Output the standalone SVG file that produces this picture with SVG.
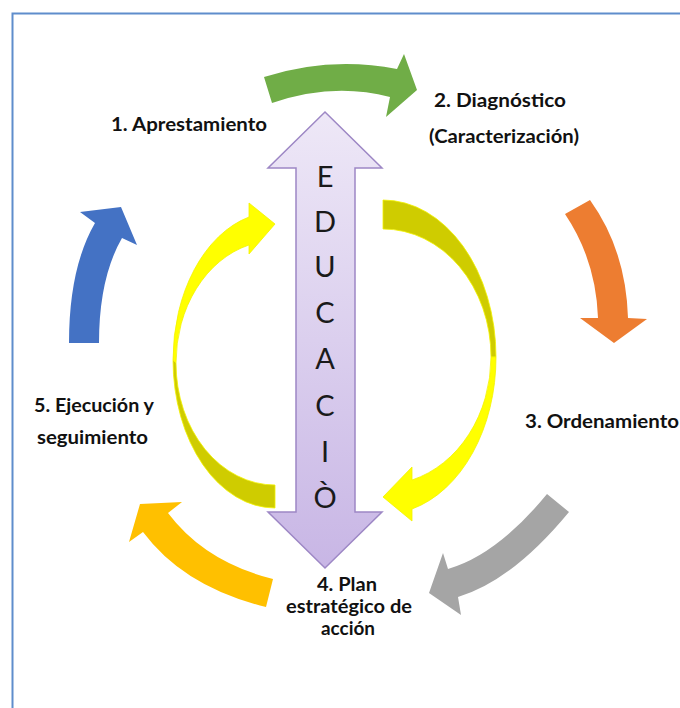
<svg xmlns="http://www.w3.org/2000/svg" width="680" height="708" viewBox="0 0 680 708">
  <defs>
    <linearGradient id="lav" x1="0" y1="0" x2="0" y2="1">
      <stop offset="0" stop-color="#EEE8F7"/>
      <stop offset="1" stop-color="#C8B6E5"/>
    </linearGradient>
  </defs>
  <style>
    .lbl { font-family: Lato, "Liberation Sans", Arial, sans-serif; font-weight: bold; font-size: 18px; fill: #111; }
    .big { font-family: Lato, "Liberation Sans", Arial, sans-serif; font-size: 29px; fill: #1a1a1a; text-anchor: middle; }
    .yel { fill: #FFFF00; stroke: #F2F200; stroke-width: 0.8; }
    .olv { fill: #CFCC00; stroke: #F2F200; stroke-width: 0.8; }
  </style>
  <rect x="12.5" y="13.5" width="720" height="720" fill="#ffffff" stroke="#5F8DCC" stroke-width="2"/>

  <g id="connectors">
    <path id="arrow-1-2" d="M264,77 Q330,56 397,69 L404,54 L417,90 L386,117 L390,97 Q333,82 272,103 Z" fill="#70AD47"/>
    <path id="arrow-2-3" d="M565,214 Q596,260 598,318 L580,318 L614,343 L647,319 L628,318 Q626,250 590,200 Z" fill="#ED7D31"/>
    <path id="arrow-3-4" d="M547,494 Q497,555 448,569 L443,553 L429,593 L461,615 L458,597 Q512,581 569,512 Z" fill="#A5A5A5"/>
    <path id="arrow-4-5" d="M273,579 Q205,562 168,513 L182,502 L140,504 L129,542 L143,532 Q184,587 266,607 Z" fill="#FFC000"/>
    <path id="arrow-5-1" d="M69,343 Q69,268 95,223 L80,212 L121,207 L137,245 L122,238 Q99,278 99,343 Z" fill="#4472C4"/>
    <g id="cycle-left">
      <path class="olv" d="M173,360 A102,148 0 0,0 275,508 L275,485 A99,122 0 0,1 176,363 Z"/>
      <path class="yel" d="M249,217 A102,148 0 0,0 173,360 L176,363 A99,122 0 0,1 249,245 L249,254 L275,224 L249,203 Z"/>
    </g>
    <g id="cycle-right">
      <path class="olv" d="M383,200 A113,157 0 0,1 496,357 L491,357 A108,128 0 0,0 383,229 Z"/>
      <path class="yel" d="M496,357 A113,157 0 0,1 412,509 L412,521 L383,497 L412,467 L412,480 A108,128 0 0,0 491,357 Z"/>
    </g>
  </g>

  <g id="educacion">
    <path d="M325,112 L382,168 L355,168 L355,512 L382,512 L325,568 L268,512 L296,512 L296,168 L268,168 Z" fill="url(#lav)" stroke="#9D87C5" stroke-width="1.5"/>
    <text class="big" x="325" y="187">E</text>
    <text class="big" x="325" y="232">D</text>
    <text class="big" x="325" y="277">U</text>
    <text class="big" x="325" y="323">C</text>
    <text class="big" x="325" y="369">A</text>
    <text class="big" x="325" y="416">C</text>
    <text class="big" x="325" y="462">I</text>
    <text class="big" x="325" y="508">Ò</text>
  </g>

  <g id="step1">
    <text class="lbl" x="111" y="131" textLength="156" lengthAdjust="spacingAndGlyphs">1. Aprestamiento</text>
  </g>
  <g id="step2">
    <text class="lbl" x="434" y="107" textLength="132" lengthAdjust="spacingAndGlyphs">2. Diagnóstico</text>
    <text class="lbl" x="429" y="143" textLength="150" lengthAdjust="spacingAndGlyphs">(Caracterización)</text>
  </g>
  <g id="step3">
    <text class="lbl" x="525" y="428" textLength="154" lengthAdjust="spacingAndGlyphs">3. Ordenamiento</text>
  </g>
  <g id="step4">
    <text class="lbl" x="317" y="591" textLength="60" lengthAdjust="spacingAndGlyphs">4. Plan</text>
    <text class="lbl" x="286" y="613" textLength="126" lengthAdjust="spacingAndGlyphs">estratégico de</text>
    <text class="lbl" x="321" y="635" textLength="54" lengthAdjust="spacingAndGlyphs">acción</text>
  </g>
  <g id="step5">
    <text class="lbl" x="34" y="412" textLength="120" lengthAdjust="spacingAndGlyphs">5. Ejecución y</text>
    <text class="lbl" x="37" y="444" textLength="111" lengthAdjust="spacingAndGlyphs">seguimiento</text>
  </g>
</svg>
